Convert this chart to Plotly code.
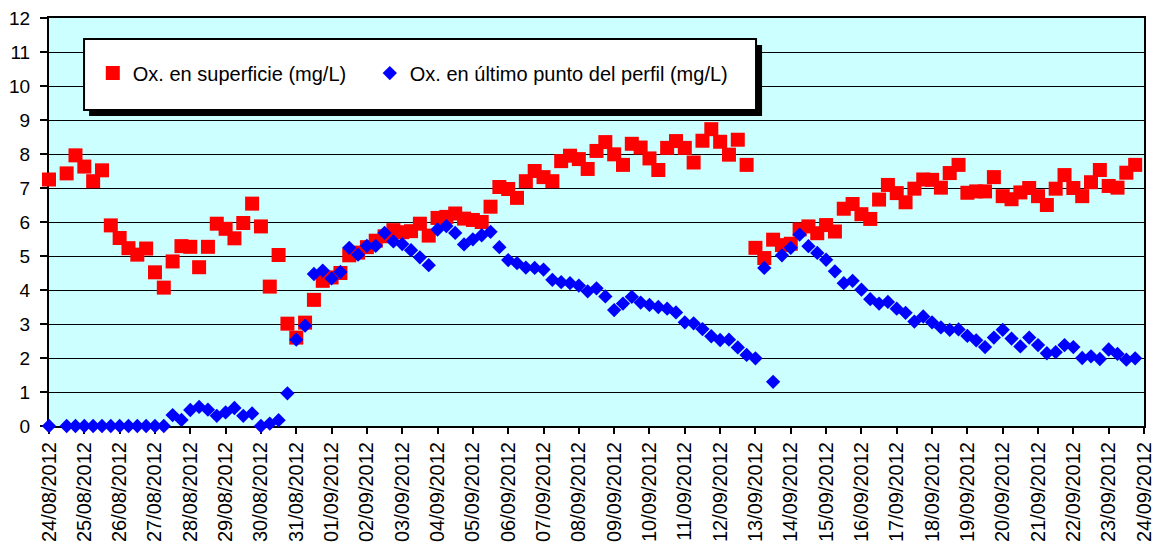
import pandas as pd
import plotly.graph_objects as go

# Sampling: one reading every 6 hours starting 24/08/2012 00:00
start_time = "2012-08-24 00:00"
sample_step = "6h"

# Ox. en superficie (mg/L)
ox_superficie = [
    7.25, None, 7.43, 7.96, 7.63, 7.20, 7.52, 5.90, 5.53, 5.23,
    5.04, 5.22, 4.52, 4.07, 4.84, 5.29, 5.27, 4.67, 5.27, 5.95,
    5.80, 5.52, 5.97, 6.54, 5.87, 4.10, 5.03, 3.01, 2.60, 3.04,
    3.71, 4.27, 4.37, 4.50, 5.02, 5.10, 5.26, 5.45, 5.58, 5.76,
    5.70, 5.73, 5.95, 5.60, 6.12, 6.15, 6.25, 6.10, 6.06, 6.00,
    6.45, 7.03, 6.97, 6.71, 7.20, 7.50, 7.32, 7.20, 7.79, 7.95,
    7.85, 7.56, 8.09, 8.35, 7.99, 7.68, 8.30, 8.19, 7.87, 7.53,
    8.18, 8.38, 8.18, 7.75, 8.39, 8.73, 8.36, 7.98, 8.42, 7.68,
    5.24, 4.94, 5.48, 5.32, 5.36, 5.78, 5.87, 5.67, 5.91, 5.72,
    6.39, 6.53, 6.23, 6.09, 6.66, 7.09, 6.85, 6.58, 6.98, 7.25,
    7.24, 7.01, 7.44, 7.68, 6.86, 6.90, 6.90, 7.32, 6.76, 6.67,
    6.87, 7.00, 6.76, 6.50, 6.98, 7.38, 7.00, 6.76, 7.17, 7.53,
    7.06, 7.01, 7.45, 7.68,
]

# Ox. en último punto del perfil (mg/L)
ox_ultimo = [
    0.00, None, 0.00, 0.00, 0.00, 0.00, 0.00, 0.00, 0.00, 0.00,
    0.00, 0.00, 0.00, 0.00, 0.32, 0.18, 0.47, 0.56, 0.48, 0.30,
    0.40, 0.53, 0.30, 0.37, 0.00, 0.07, 0.17, 0.96, 2.54, 2.95,
    4.47, 4.57, 4.34, 4.53, 5.24, 5.04, 5.30, 5.30, 5.68, 5.43,
    5.35, 5.17, 4.96, 4.73, 5.78, 5.88, 5.68, 5.34, 5.49, 5.61,
    5.71, 5.26, 4.88, 4.79, 4.66, 4.65, 4.60, 4.30, 4.23, 4.20,
    4.13, 3.96, 4.05, 3.81, 3.41, 3.60, 3.80, 3.63, 3.56, 3.50,
    3.45, 3.34, 3.05, 3.02, 2.85, 2.64, 2.53, 2.54, 2.31, 2.09,
    1.99, 4.65, 1.30, 5.02, 5.24, 5.63, 5.29, 5.09, 4.89, 4.55,
    4.20, 4.27, 4.01, 3.73, 3.60, 3.65, 3.45, 3.33, 3.07, 3.22,
    3.05, 2.90, 2.83, 2.84, 2.65, 2.52, 2.32, 2.60, 2.83, 2.57,
    2.34, 2.60, 2.38, 2.14, 2.17, 2.38, 2.32, 2.00, 2.05, 1.97,
    2.25, 2.12, 1.95, 1.99,
]

series_names = ["Ox. en superficie (mg/L)", "Ox. en último punto del perfil (mg/L)"]
x_range = ["2012-08-24", "2012-09-24"]
y_ticks = list(range(0, 13))

times = pd.date_range(start_time, periods=len(ox_superficie), freq=sample_step)

FONT = "Arial, Liberation Sans, sans-serif"

fig = go.Figure()
fig.add_trace(go.Scatter(
    x=times, y=ox_superficie, mode="markers", name=series_names[0],
    marker=dict(symbol="square", size=14, color="#FF0000", line=dict(width=0)),
    cliponaxis=False, legendwidth=232,
))
fig.add_trace(go.Scatter(
    x=times, y=ox_ultimo, mode="markers", name=series_names[1],
    marker=dict(symbol="diamond", size=11, color="#0000FF", line=dict(width=0)),
    cliponaxis=False,
))

# legend box with drop shadow (paper coordinates)
fig.add_shape(type="rect", xref="paper", yref="paper",
              x0=0.0366, x1=0.6512, y0=0.7598, y1=0.9338,
              fillcolor="black", line=dict(width=0), layer="above")
fig.add_shape(type="rect", xref="paper", yref="paper",
              x0=0.0320, x1=0.6457, y0=0.7745, y1=0.9485,
              fillcolor="white", line=dict(color="black", width=2), layer="above")

fig.update_layout(
    width=1154, height=548,
    margin=dict(l=49, r=10, t=18, b=122, autoexpand=False),
    paper_bgcolor="white",
    plot_bgcolor="#CCFFFF",
    font=dict(family=FONT, color="black"),
    showlegend=True,
    legend=dict(
        orientation="h", x=0.040, y=0.865, xanchor="left", yanchor="middle",
        xref="paper", yref="paper",
        bgcolor="rgba(0,0,0,0)", borderwidth=0,
        font=dict(family=FONT, size=20, color="black"),
    ),
)

fig.update_xaxes(
    type="date", range=x_range, dtick=86400000, tick0="2012-08-24",
    tickformat="%d/%m/%Y", tickangle=-90, ticklabeloverflow="allow",
    ticks="outside", ticklen=6, tickwidth=2, tickcolor="black",
    showline=True, linecolor="black", linewidth=2, mirror=True,
    showgrid=False, zeroline=False, layer="below traces", automargin=False,
    tickfont=dict(family=FONT, size=20, color="black"),
)
fig.update_yaxes(
    range=[0, 12], tickvals=y_ticks,
    ticks="outside", ticklen=7, tickwidth=2, tickcolor="black",
    showline=True, linecolor="black", linewidth=2, mirror=True,
    showgrid=True, gridcolor="black", gridwidth=1, zeroline=False,
    layer="below traces", ticklabelstandoff=6, automargin=False,
    tickfont=dict(family=FONT, size=19, color="black"),
)

fig.write_html(
    "out.html",
    config={"displayModeBar": False},
    post_script="document.body.style.margin='0';document.body.style.overflow='hidden';",
)
